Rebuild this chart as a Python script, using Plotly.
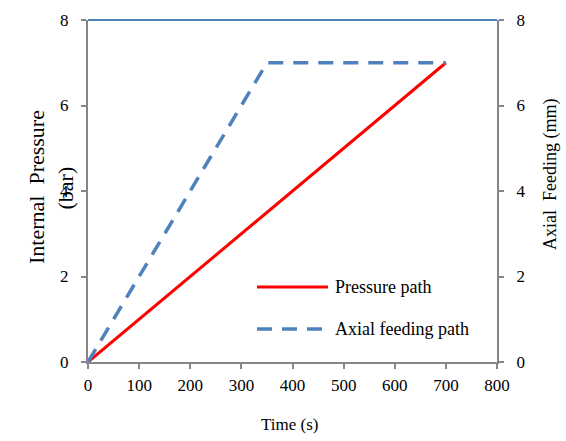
import plotly.graph_objects as go

time_pressure = [0, 700]
pressure = [0, 7]
time_feed = [0, 350, 700]
feed = [0, 7, 7]
x_ticks = [0, 100, 200, 300, 400, 500, 600, 700, 800]
y_ticks = [0, 2, 4, 6, 8]

FONT = "Liberation Serif, Times New Roman, serif"
RED = "#ff0000"
BLUE = "#4f81bd"
GREY = "#868686"

fig = go.Figure()
fig.add_trace(go.Scatter(x=time_pressure, y=pressure, mode="lines",
                         line=dict(color=RED, width=3), showlegend=False,
                         name="Pressure path"))
fig.add_trace(go.Scatter(x=time_feed, y=feed, mode="lines", yaxis="y2",
                         line=dict(color=BLUE, width=3.5, dash="15px,10px"),
                         showlegend=False, name="Axial feeding path"))

axis_common = dict(showgrid=False, zeroline=False, showline=True, linecolor=GREY,
                   linewidth=2, ticks="outside", ticklen=5, tickcolor=GREY, tickwidth=1.5,
                   tickfont=dict(family=FONT, size=17, color="#000000"))

fig.update_layout(
    width=566, height=441,
    margin=dict(l=88, r=69, t=20, b=79),
    font=dict(family=FONT, size=17, color="#000000"),
    paper_bgcolor="white", plot_bgcolor="white",
    xaxis=dict(range=[0, 800], tickvals=x_ticks, ticklabelstandoff=2, **axis_common),
    yaxis=dict(range=[0, 8], tickvals=y_ticks, ticklabelstandoff=9, **axis_common),
    yaxis2=dict(range=[0, 8], tickvals=y_ticks, overlaying="y", side="right",
                ticklabelstandoff=9, **axis_common),
    showlegend=False,
)

# top border
fig.add_shape(type="line", xref="paper", yref="paper", x0=0, x1=1, y0=1, y1=1,
              line=dict(color=BLUE, width=2))

def px_x(v):
    return (v - 88) / 409

def px_y(v):
    return (362 - v) / 342

# axis titles
title_common = dict(xref="paper", yref="paper", showarrow=False,
                    xanchor="center", yanchor="middle")
fig.add_annotation(text="Internal  Pressure", x=px_x(36.5), y=px_y(187.5), textangle=-90,
                   font=dict(family=FONT, size=22, color="#000000"), **title_common)
fig.add_annotation(text="(bar)", x=px_x(65), y=px_y(188.5), textangle=-90,
                   font=dict(family=FONT, size=22, color="#000000"), **title_common)
fig.add_annotation(text="Axial  Feeding (mm)", x=px_x(550), y=px_y(175), textangle=-90,
                   font=dict(family=FONT, size=18, color="#000000"), **title_common)
fig.add_annotation(text="Time (s)", x=px_x(289), y=px_y(424),
                   font=dict(family=FONT, size=17, color="#000000"), **title_common)

# manual legend
legend_items = [("Pressure path", RED, "solid", 3, 287),
                ("Axial feeding path", BLUE, "15px,10px", 3.5, 329)]
for label, color, dash, w, yy in legend_items:
    fig.add_shape(type="line", xref="paper", yref="paper",
                  x0=px_x(257), x1=px_x(328), y0=px_y(yy), y1=px_y(yy),
                  line=dict(color=color, width=w, dash=dash))
    fig.add_annotation(text=label, xref="paper", yref="paper",
                       x=px_x(333), y=px_y(yy), xanchor="left", yanchor="middle",
                       showarrow=False, font=dict(family=FONT, size=18, color="#000000"))

fig.write_html("out.html")
